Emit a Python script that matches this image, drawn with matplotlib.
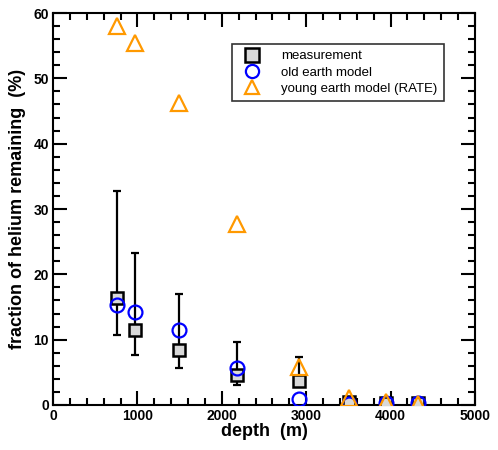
import matplotlib
matplotlib.use("Agg")
import matplotlib.pyplot as plt
from matplotlib.ticker import MultipleLocator

plt.rcParams['font.family'] = ['Liberation Sans', 'DejaVu Sans']

depth = [755, 972, 1497, 2180, 2911, 3511, 3942, 4321]
measurement = [16.4, 11.5, 8.4, 4.6, 3.7, 0.5, 0.35, 0.3]
err_top = [32.8, 23.2, 17.0, 9.6, 7.4, 0.5, 0.35, 0.3]
err_bot = [10.7, 7.6, 5.6, 3.1, 2.9, 0.5, 0.35, 0.3]
old_earth = [15.3, 14.2, 11.5, 5.7, 0.9, 0.1, 0.3, 0.3]
young_earth = [58.0, 55.4, 46.3, 27.7, 5.8, 1.0, 0.4, 0.2]

fig = plt.figure(figsize=(4.98, 4.5), dpi=100)
ax = fig.add_axes([0.1064, 0.1, 0.8474, 0.8711])

yerr = [[m - b for m, b in zip(measurement, err_bot)],
        [t - m for m, t in zip(measurement, err_top)]]
ax.errorbar(depth[:5], measurement[:5], yerr=[yerr[0][:5], yerr[1][:5]], fmt='none',
            ecolor='black', elinewidth=1.6, capsize=3, capthick=1.6, zorder=2)
ax.plot(depth, measurement, linestyle='none', marker='s', markersize=8.5,
        markerfacecolor='#d8d8d8', markeredgecolor='black', markeredgewidth=1.8,
        label='measurement', zorder=3)
ax.plot(depth, old_earth, linestyle='none', marker='o', markersize=10,
        markerfacecolor='none', markeredgecolor='#0000ff', markeredgewidth=1.6,
        label='old earth model', zorder=4)
ax.plot(depth, young_earth, linestyle='none', marker='^', markersize=11,
        markerfacecolor='none', markeredgecolor='#ff9900', markeredgewidth=1.6,
        label='young earth model (RATE)', zorder=5)

ax.set_xlim(0, 5000)
ax.set_ylim(0, 60)
ax.xaxis.set_major_locator(MultipleLocator(1000))
ax.xaxis.set_minor_locator(MultipleLocator(200))
ax.yaxis.set_major_locator(MultipleLocator(10))
ax.yaxis.set_minor_locator(MultipleLocator(2))
ax.tick_params(which='both', direction='in', top=True, right=True, width=1.5)
ax.tick_params(which='major', length=10, labelsize=10, pad=3)
ax.tick_params(which='minor', length=5)
for lab in ax.get_xticklabels() + ax.get_yticklabels():
    lab.set_fontweight('bold')
for s in ax.spines.values():
    s.set_linewidth(1.5)

ax.set_xlabel('depth  (m)', fontsize=13, fontweight='bold', labelpad=0)
ax.set_ylabel('fraction of helium remaining  (%)', fontsize=13, fontweight='bold', labelpad=5)

leg = ax.legend(loc='upper left', bbox_to_anchor=(0.425, 0.922), fontsize=9.5,
                frameon=True, fancybox=False, edgecolor='black', handlelength=2.0,
                handletextpad=1.2, labelspacing=0.3, borderpad=0.5, borderaxespad=0,
                numpoints=1)
leg.get_frame().set_linewidth(1.2)
for h in leg.legend_handles:
    h.set_markersize(9.5)

fig.savefig('out.png', dpi=100)
